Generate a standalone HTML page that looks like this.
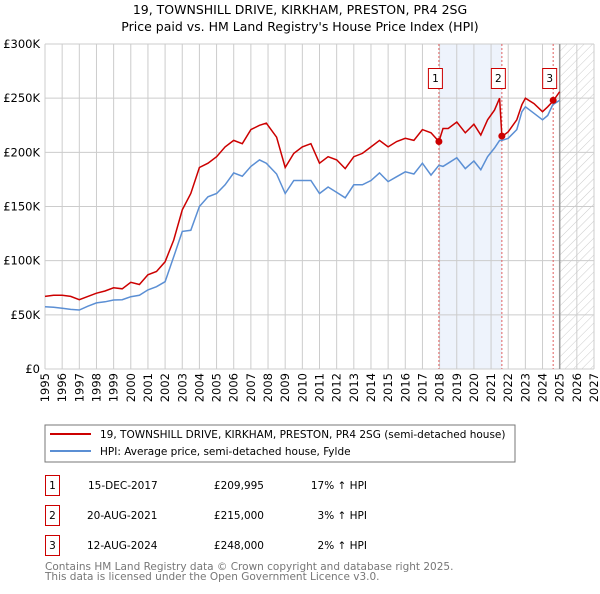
<!DOCTYPE html>
<html><head><meta charset="utf-8"><style>
body{margin:0;background:#fff;width:600px;height:590px;overflow:hidden;font-family:"DejaVu Sans","Liberation Sans",sans-serif;}
svg text{font-family:"DejaVu Sans","Liberation Sans",sans-serif;}
</style></head><body>
<svg id="c" width="600" height="590" xmlns="http://www.w3.org/2000/svg">
<text x="300" y="14" text-anchor="middle" font-size="12.5" fill="#000">19, TOWNSHILL DRIVE, KIRKHAM, PRESTON, PR4 2SG</text>
<text x="300" y="31" text-anchor="middle" font-size="12.5" fill="#000">Price paid vs. HM Land Registry's House Price Index (HPI)</text>
<defs><pattern id="hatch" width="6" height="6" patternUnits="userSpaceOnUse" patternTransform="rotate(45)"><line x1="0" y1="0" x2="0" y2="6" stroke="#ccc" stroke-width="1"/></pattern></defs>
<g id="grid"></g><g id="marks"></g><g id="axes"></g>
<rect x="45" y="425" width="470" height="37" fill="#fff" stroke="#777"/>
<line x1="50" y1="434" x2="91" y2="434" stroke="#cc0000" stroke-width="2"/>
<text x="100" y="438" font-size="10.5">19, TOWNSHILL DRIVE, KIRKHAM, PRESTON, PR4 2SG (semi-detached house)</text>
<line x1="50" y1="451" x2="91" y2="451" stroke="#5b8fd4" stroke-width="2"/>
<text x="100" y="455" font-size="10.5">HPI: Average price, semi-detached house, Fylde</text>
<g font-size="10.5">
<rect x="45.5" y="475.5" width="14" height="20" fill="#fff" stroke="#cc0000"/><text x="52.5" y="489" text-anchor="middle">1</text>
<text x="88" y="489">15-DEC-2017</text><text x="264" y="489" text-anchor="end">£209,995</text><text x="367" y="489" text-anchor="end">17% ↑ HPI</text>
<rect x="45.5" y="505.5" width="14" height="20" fill="#fff" stroke="#cc0000"/><text x="52.5" y="519" text-anchor="middle">2</text>
<text x="87" y="519">20-AUG-2021</text><text x="264" y="519" text-anchor="end">£215,000</text><text x="367" y="519" text-anchor="end">3% ↑ HPI</text>
<rect x="45.5" y="535.5" width="14" height="20" fill="#fff" stroke="#cc0000"/><text x="52.5" y="549" text-anchor="middle">3</text>
<text x="87" y="549">12-AUG-2024</text><text x="264" y="549" text-anchor="end">£248,000</text><text x="367" y="549" text-anchor="end">2% ↑ HPI</text>
</g>
<text x="45" y="570" font-size="10.5" fill="#777">Contains HM Land Registry data © Crown copyright and database right 2025.</text>
<text x="45" y="580" font-size="10.5" fill="#777">This data is licensed under the Open Government Licence v3.0.</text>
</svg>
<script>
const years=[1995,1995.5,1996,1996.5,1997,1997.5,1998,1998.5,1999,1999.5,2000,2000.5,2001,2001.5,2002,2002.5,2003,2003.5,2004,2004.5,2005,2005.5,2006,2006.5,2007,2007.5,2007.9,2008.5,2009,2009.5,2010,2010.5,2011,2011.5,2012,2012.5,2013,2013.5,2014,2014.5,2015,2015.5,2016,2016.5,2017,2017.5,2017.96,2018.2,2018.5,2019,2019.5,2020,2020.4,2020.8,2021.2,2021.5,2021.63,2022,2022.5,2022.8,2023,2023.5,2024,2024.3,2024.6,2025];
const priceK=[67,68,68,67,64,67,70,72,75,74,80,78,87,90,99,119,147,162,186,190,196,205,211,208,221,225,227,214,186,199,205,208,190,196,193,185,196,199,205,211,205,210,213,211,221,218,210,222,222,228,218,226,216,230,239,250,214.5,219,230,244,250,245,237.5,242,247,256];
const hpiK=[57.5,57,56,55,54.5,58,61,62,63.7,64,66.7,68,73,76,80.6,103.6,127,128,150,159,162,170,181,178,187,193,190,180,162,174,174,174,162,168,163,158,170,170,174,181,173,177.5,182,180,190,179,188,187,190,195,185,192,184,196,204,211,211,213,221,237.5,242,236,230,234,244,248];
const saleYears=[2017.96,2021.63,2024.62];
const saleK=[209.995,215,248];
const yTicks=[0,50,100,150,200,250,300];
const yTickLabels=["£0","£50K","£100K","£150K","£200K","£250K","£300K"];
const xTicks=[1995,1996,1997,1998,1999,2000,2001,2002,2003,2004,2005,2006,2007,2008,2009,2010,2011,2012,2013,2014,2015,2016,2017,2018,2019,2020,2021,2022,2023,2024,2025,2026,2027];

const NS="http://www.w3.org/2000/svg";
const X=y=>45+(y-1995)*(549/32);
const Y=v=>369-v*(325/300);
function mk(p,tag,at){const e=document.createElementNS(NS,tag);for(const k in at)e.setAttribute(k,at[k]);p.appendChild(e);return e;}
const grid=document.getElementById('grid'),marks=document.getElementById('marks'),axes=document.getElementById('axes');
let sh=mk(grid,'rect',{x:X(saleYears[0]),y:44,width:X(saleYears[1])-X(saleYears[0]),height:325,fill:'#eef3fc'});


let ht=mk(grid,'rect',{x:X(2025),y:44,width:X(2027)-X(2025),height:325,fill:'url(#hatch)'});


xTicks.forEach(t=>{const l=mk(grid,'line',{x1:X(t),x2:X(t),y1:44,y2:369,stroke:'#ccc','stroke-width':1});


const tx=mk(axes,'text',{x:0,y:0,'text-anchor':'end','font-size':'11.5',transform:'translate('+(X(t)+4)+',373) rotate(-90)'});tx.textContent=t;

});
yTicks.forEach((t,i)=>{const l=mk(grid,'line',{x1:45,x2:594,y1:Y(t),y2:Y(t),stroke:'#ccc','stroke-width':1});


const tx=mk(axes,'text',{x:40,y:Y(t)+4,'text-anchor':'end','font-size':'11.5'});tx.textContent=yTickLabels[i];

});
let nl=mk(grid,'line',{x1:X(2025),x2:X(2025),y1:44,y2:369,stroke:'#999','stroke-width':1.5});


saleYears.forEach((s,i)=>{const l=mk(marks,'line',{x1:X(s),x2:X(s),y1:44,y2:369,stroke:'#e06060','stroke-dasharray':'2,2','stroke-width':1});

});
const path=(arr)=>years.map((y,i)=>(i?'L':'M')+X(y).toFixed(1)+','+Y(arr[i]).toFixed(1)).join('');
let hp=mk(marks,'path',{d:path(hpiK),fill:'none',stroke:'#5b8fd4','stroke-width':1.5});


let pp=mk(marks,'path',{d:path(priceK),fill:'none',stroke:'#cc0000','stroke-width':1.5});


saleYears.forEach((s,i)=>{const c=mk(marks,'circle',{cx:X(s),cy:Y(saleK[i]),r:3.5,fill:'#cc0000'});


const r=mk(marks,'rect',{x:X(s)-10.5,y:68.5,width:14,height:20,fill:'#fff',stroke:'#cc0000'});


const t=mk(marks,'text',{x:X(s)-3.5,y:82,'text-anchor':'middle','font-size':'10.5'});t.textContent=i+1;

});
</script>
</body></html>
